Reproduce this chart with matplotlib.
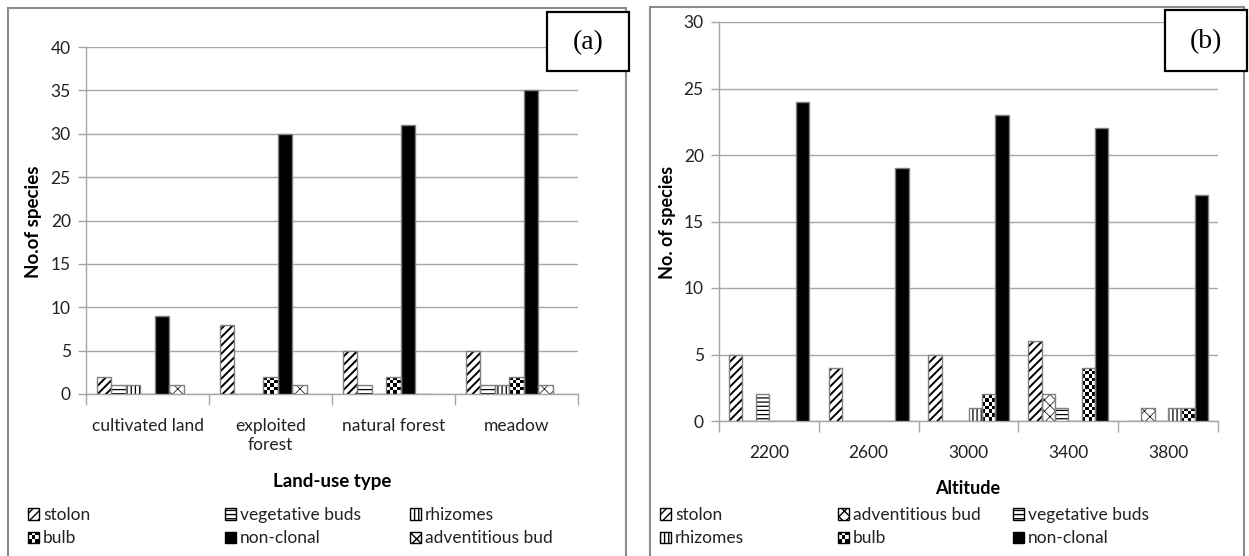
import numpy as np
import matplotlib
matplotlib.use("Agg")
import matplotlib.pyplot as plt
from matplotlib.patches import Rectangle, Patch
from matplotlib.legend_handler import HandlerBase

plt.rcParams['font.family'] = ['Lato', 'DejaVu Sans']

# ---------------- data ----------------
landuse = ["cultivated land", "exploited\nforest", "natural forest", "meadow"]
a_series = ["stolon", "vegetative buds", "rhizomes", "bulb", "non-clonal", "adventitious bud"]
a_stolon = [2, 8, 5, 5]
a_veg = [1, 0, 1, 1]
a_rhiz = [1, 0, 0, 1]
a_bulb = [0, 2, 2, 2]
a_nonclonal = [9, 30, 31, 35]
a_adv = [1, 1, 0, 1]

altitude = ["2200", "2600", "3000", "3400", "3800"]
b_series = ["stolon", "adventitious bud", "vegetative buds", "rhizomes", "bulb", "non-clonal"]
b_stolon = [5, 4, 5, 6, 0]
b_adv = [0, 0, 0, 2, 1]
b_veg = [2, 0, 0, 1, 0]
b_rhiz = [0, 0, 1, 0, 1]
b_bulb = [0, 0, 2, 4, 1]
b_nonclonal = [24, 19, 23, 22, 17]

W, H = 1249, 556
fig = plt.figure(figsize=(W / 100, H / 100), dpi=100)

EDGE = '#808080'
GRID = '#a6a6a6'

STYLE = {
    "stolon": dict(hatch='////', hlw=1.4, face='white'),
    "vegetative buds": dict(hatch='----', hlw=0.9, face='white'),
    "rhizomes": dict(hatch='||||', hlw=0.9, face='white'),
    "bulb": dict(hatch=None, hlw=0.9, face='white', checker=True),
    "non-clonal": dict(hatch=None, hlw=0.9, face='black'),
    "adventitious bud": dict(hatch='xxx', hlw=0.5, face='white'),
}


def fx(px):
    return px / W


def fy(py):
    return 1 - py / H


def draw_bars(ax, x, vals, offset, w, name, px_per_unit):
    st = STYLE[name]
    with plt.rc_context({'hatch.linewidth': st['hlw'], 'hatch.color': 'black'}):
        bars = ax.bar(x + offset, vals, width=w, color=st['face'], edgecolor='black',
                      linewidth=0, hatch=st['hatch'], zorder=3)
        for b in bars:
            if hasattr(b, 'set_hatch_linewidth'):
                b.set_hatch_linewidth(st['hlw'])
    if st.get('checker'):
        for b in bars:
            h = b.get_height()
            if h <= 0:
                continue
            x0 = b.get_x()
            bw = b.get_width()
            nx = 4
            ny = max(1, int(round(h * px_per_unit / 3.6)))
            arr = (np.add.outer(np.arange(ny), np.arange(nx)) % 2).astype(float)
            im = ax.imshow(arr, cmap='gray', interpolation='nearest', aspect='auto',
                           extent=(x0, x0 + bw, 0, h), origin='lower', zorder=3.5,
                           vmin=0, vmax=1)
            im.set_clip_path(b)
    ax.bar(x + offset, vals, width=w, fill=False, edgecolor=EDGE, linewidth=1.0, zorder=4)


def setup_axis(ax, cats, ymax):
    n = len(cats)
    ax.set_xlim(-0.5, n - 0.5)
    ax.set_ylim(0, ymax)
    ax.set_yticks(np.arange(0, ymax + 1, 5))
    ax.yaxis.grid(True, color=GRID, linewidth=1.0, zorder=0)
    ax.set_axisbelow(True)
    for s in ['top', 'right']:
        ax.spines[s].set_visible(False)
    for s in ['left', 'bottom']:
        ax.spines[s].set_color(GRID)
        ax.spines[s].set_linewidth(1.0)
    ax.set_xticks(np.arange(n))
    ax.set_xticklabels(cats, fontsize=12.5, linespacing=1.25)
    ax.set_xticks(np.arange(n + 1) - 0.5, minor=True)
    ax.tick_params(axis='x', which='major', length=0, pad=17)
    ax.tick_params(axis='x', which='minor', length=8, color=GRID, width=1)
    ax.tick_params(axis='y', length=6, color=GRID, width=1, labelsize=12.5, pad=5,
                   labelcolor='#222222')
    ax.tick_params(axis='x', labelcolor='#222222')


# ---------------- panel (a) ----------------
axa = fig.add_axes([fx(86), fy(394), fx(578) - fx(86), fy(47) - fy(394)])
setup_axis(axa, landuse, 40)
xa = np.arange(len(landuse))
ka = 7
wa = 1 / (ka + 1.45)
a_vals = [a_stolon, a_veg, a_rhiz, a_bulb, a_nonclonal, a_adv]
ppu_a = (394 - 47) / 40
for i, (name, v) in enumerate(zip(a_series, a_vals)):
    draw_bars(axa, xa, v, (i - (ka - 1) / 2) * wa, wa, name, ppu_a)
axa.set_xlim(-0.5, len(landuse) - 0.5)
axa.set_ylim(0, 40)

# ---------------- panel (b) ----------------
axb = fig.add_axes([fx(719), fy(421), fx(1218) - fx(719), fy(22) - fy(421)])
setup_axis(axb, altitude, 30)
xb = np.arange(len(altitude))
kb = 6
wb = 1 / (kb + 1.45)
b_vals = [b_stolon, b_adv, b_veg, b_rhiz, b_bulb, b_nonclonal]
ppu_b = (421 - 22) / 30
for i, (name, v) in enumerate(zip(b_series, b_vals)):
    draw_bars(axb, xb, v, (i - (kb - 1) / 2) * wb, wb, name, ppu_b)
axb.set_xlim(-0.5, len(altitude) - 0.5)
axb.set_ylim(0, 30)

# ---------------- axis titles ----------------
fig.text(fx(33), fy(222), "No.of species", rotation=90, ha='center', va='center',
         fontsize=13.5, fontweight='bold')
fig.text(fx(668), fy(222), "No. of species", rotation=90, ha='center', va='center',
         fontsize=13, fontweight='bold')
fig.text(fx(332), fy(481), "Land-use type", ha='center', va='center',
         fontsize=13.5, fontweight='bold')
fig.text(fx(968), fy(488), "Altitude", ha='center', va='center',
         fontsize=13, fontweight='bold')

# ---------------- panel borders ----------------
fig.patches.append(Rectangle((fx(8), fy(562)), fx(626) - fx(8), fy(8) - fy(562),
                             transform=fig.transFigure, fill=False, edgecolor='#8c8c8c',
                             linewidth=1.5, zorder=0))
fig.patches.append(Rectangle((fx(650), fy(562)), fx(1244) - fx(650), fy(7) - fy(562),
                             transform=fig.transFigure, fill=False, edgecolor='#8c8c8c',
                             linewidth=1.5, zorder=0))

# label boxes
for (x0, x1, y0, y1, lab) in [(547, 629, 12, 71, "(a)"), (1165, 1247, 10, 71, "(b)")]:
    fig.patches.append(Rectangle((fx(x0), fy(y1)), fx(x1) - fx(x0), fy(y0) - fy(y1),
                                 transform=fig.transFigure, facecolor='white',
                                 edgecolor='black', linewidth=1.6, zorder=5))
    fig.text(fx((x0 + x1) / 2), fy((y0 + y1) / 2 + 1), lab, ha='center', va='center',
             fontsize=20, family=['Liberation Serif', 'DejaVu Serif'], zorder=6)


# ---------------- legends ----------------
class CheckerHandler(HandlerBase):
    def create_artists(self, legend, orig_handle, xdescent, ydescent, width, height,
                       fontsize, trans):
        n = 3
        arts = []
        for i in range(n):
            for j in range(n):
                if (i + j) % 2 == 0:
                    arts.append(Rectangle((-xdescent + i * width / n, -ydescent + j * height / n),
                                          width / n, height / n, facecolor='black',
                                          edgecolor='none', transform=trans))
        arts.append(Rectangle((-xdescent, -ydescent), width, height, facecolor='none',
                              edgecolor='black', linewidth=1, transform=trans))
        return arts


class CheckerPatch(Patch):
    pass


def make_handle(name):
    st = STYLE[name]
    if st.get('checker'):
        return CheckerPatch(facecolor='white', edgecolor='black')
    with plt.rc_context({'hatch.linewidth': min(st['hlw'], 1.0)}):
        p = Patch(facecolor=st['face'], edgecolor='black', hatch=st['hatch'], linewidth=1)
        if hasattr(p, 'set_hatch_linewidth'):
            p.set_hatch_linewidth(min(st['hlw'], 1.0))
    return p


def add_legend_columns(series, col_px, row1_py):
    # series is ordered row-wise in 3 columns
    for c in range(3):
        names = [series[c], series[c + 3]]
        hs = [make_handle(n) for n in names]
        leg = fig.legend(hs, names, loc='upper left',
                         bbox_to_anchor=(fx(col_px[c]), fy(row1_py)),
                         frameon=False, fontsize=12.5, handlelength=0.62,
                         handleheight=0.62, handletextpad=0.25, labelspacing=0.42,
                         borderaxespad=0, borderpad=0,
                         handler_map={CheckerPatch: CheckerHandler()})
        for t in leg.get_texts():
            t.set_color('#222222')


add_legend_columns(a_series, [28, 225, 410], 507)
add_legend_columns(b_series, [660, 838, 1013], 507)

fig.savefig("out.png", dpi=100)
